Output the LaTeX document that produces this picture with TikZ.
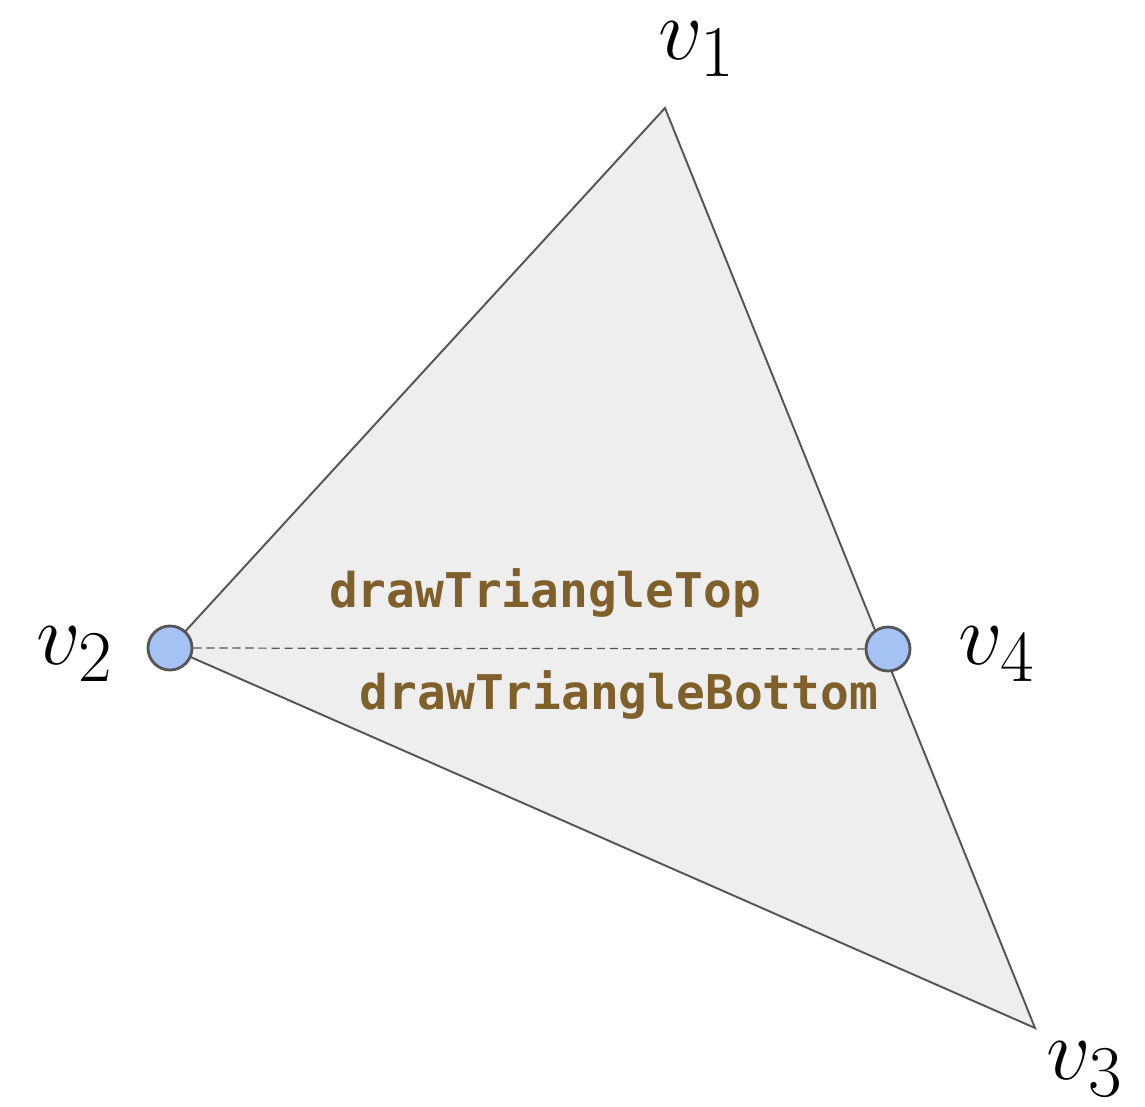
\documentclass[tikz,border=0pt]{standalone}
\usepackage{fontspec}
\setmonofont{DejaVu Sans Mono}
\usepackage{tikz}
\usetikzlibrary{positioning}
\definecolor{facegray}{HTML}{EEEEEE}
\definecolor{edgegray}{HTML}{555555}
\definecolor{dotblue}{HTML}{A4C2F4}
\definecolor{codebrown}{HTML}{7F5F2A}

\begin{document}
\begin{tikzpicture}[x=0.01cm,y=-0.01cm,
  vlabel/.style={font=\fontsize{31}{36}\selectfont,inner sep=0pt},
  splitdot/.style={circle,draw=edgegray,line width=0.8pt,fill=dotblue,minimum size=0.44cm,inner sep=0pt},
  codetext/.style={font=\fontsize{13.6}{16}\selectfont\ttfamily\bfseries,text=codebrown}]
\useasboundingbox (0,0) rectangle (1145,1107);
% corners of the triangle
\coordinate (v1) at (665,108);
\coordinate (v2) at (170,648);
\coordinate (v3) at (1035,1028);
\coordinate (v4) at (888,649);
\filldraw[fill=facegray,draw=edgegray,line width=0.55pt] (v1) -- (v2) -- (v3) -- cycle;
% split line
\node[splitdot] (d2) at (v2) {};
\node[splitdot] (d4) at (v4) {};
\draw[edgegray,line width=0.35pt,dash pattern=on 2.3pt off 1.4pt] (d2) -- (d4);
\node[codetext] (top) at (545,593) {drawTriangleTop};
\node[codetext] (bottom) at (619,695) {drawTriangleBottom};
% labels
\node[vlabel] (l1) at (697,49) {$v_1$};
\node[vlabel] (l2) at (75,654) {$v_2$};
\node[vlabel] (l3) at (1085,1069) {$v_3$};
\node[vlabel] (l4) at (997,654) {$v_4$};
\end{tikzpicture}
\end{document}
